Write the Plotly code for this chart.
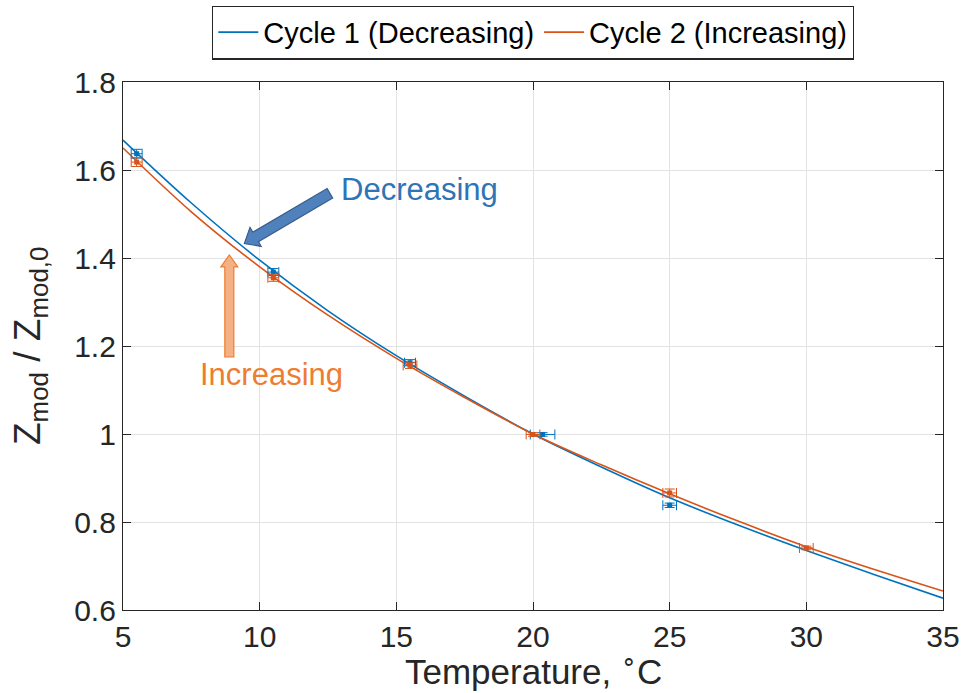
import plotly.graph_objects as go

# Fitted curves (normalised modulus vs temperature)
fit_temp = [5, 7.5, 10, 12.5, 15, 17.5, 20, 22.5, 25, 27.5, 30, 32.5, 35]
fit_cycle1 = [1.668, 1.525, 1.395, 1.280, 1.178, 1.086, 1.000, 0.925, 0.855, 0.793, 0.735, 0.680, 0.627]
fit_cycle2 = [1.650, 1.505, 1.380, 1.270, 1.172, 1.083, 1.000, 0.930, 0.864, 0.802, 0.744, 0.692, 0.643]

# Measured points with uncertainty
c1_temp = [5.5, 10.5, 15.5, 20.35, 25.0]
c1_val = [1.637, 1.368, 1.162, 0.999, 0.838]
c1_terr = [0.2, 0.2, 0.2, 0.45, 0.25]
c1_verr = [0.010, 0.008, 0.007, 0.004, 0.005]

c2_temp = [5.5, 10.5, 15.5, 20.0, 25.0, 30.0]
c2_val = [1.618, 1.355, 1.156, 0.999, 0.866, 0.741]
c2_terr = [0.2, 0.2, 0.25, 0.25, 0.25, 0.25]
c2_verr = [0.010, 0.008, 0.007, 0.004, 0.009, 0.004]

x_ticks = [5, 10, 15, 20, 25, 30, 35]
y_ticks = [0.6, 0.8, 1.0, 1.2, 1.4, 1.6, 1.8]

BLUE = "#0072BD"
ORANGE = "#D95319"
AX = "#262626"
FONT = "Liberation Sans, Arial, sans-serif"

W, H = 963, 693
ML, MR, MT, MB = 123, 20, 82, 83
XR = [5, 35]
YR = [0.6, 1.8]
kx = (W - ML - MR) / (XR[1] - XR[0])
ky = (H - MT - MB) / (YR[1] - YR[0])
plot_h = H - MT - MB

fig = go.Figure()

fig.add_trace(go.Scatter(x=fit_temp, y=fit_cycle1, mode="lines", line=dict(color=BLUE, width=1.6, shape="spline"),
                         name="Cycle 1 (Decreasing)"))
fig.add_trace(go.Scatter(x=fit_temp, y=fit_cycle2, mode="lines", line=dict(color=ORANGE, width=1.6, shape="spline"),
                         name="Cycle 2 (Increasing)"))

for t, v, te, ve, col in [(c1_temp, c1_val, c1_terr, c1_verr, BLUE), (c2_temp, c2_val, c2_terr, c2_verr, ORANGE)]:
    fig.add_trace(go.Scatter(
        x=t, y=v, mode="markers", showlegend=False,
        marker=dict(symbol="square", size=5, color=col),
        error_x=dict(type="data", array=te, color=col, thickness=1, width=5),
        error_y=dict(type="data", array=ve, color=col, thickness=1, width=5),
    ))


def block_arrow(tail, tip, shaft, head, head_len):
    """SVG path of a block arrow; widths in pixels, ends in data units."""
    tx, ty = tail[0] * kx, tail[1] * ky
    px, py = tip[0] * kx, tip[1] * ky
    dx, dy = px - tx, py - ty
    n = (dx * dx + dy * dy) ** 0.5
    dx, dy = dx / n, dy / n
    nx, ny = -dy, dx
    bx, by = px - dx * head_len, py - dy * head_len
    pts = [
        (tx + nx * shaft / 2, ty + ny * shaft / 2),
        (bx + nx * shaft / 2, by + ny * shaft / 2),
        (bx + nx * head / 2, by + ny * head / 2),
        (px, py),
        (bx - nx * head / 2, by - ny * head / 2),
        (bx - nx * shaft / 2, by - ny * shaft / 2),
        (tx - nx * shaft / 2, ty - ny * shaft / 2),
    ]
    return "M " + " L ".join(f"{x / kx:.5f},{y / ky:.5f}" for x, y in pts) + " Z"


fig.add_shape(type="path", xref="x", yref="y",
              path=block_arrow((12.57, 1.547), (9.44, 1.433), 11, 22, 13),
              fillcolor="#4F81BD", line=dict(color="#385D8A", width=1.2))
fig.add_shape(type="path", xref="x", yref="y",
              path=block_arrow((8.89, 1.175), (8.89, 1.407), 9, 17, 12),
              fillcolor="#F4B183", line=dict(color="#ED7D31", width=1.2))

fig.add_annotation(x=15.83, y=1.555, text="Decreasing", showarrow=False,
                   font=dict(family=FONT, size=31, color="#2E75B6"))
fig.add_annotation(x=10.45, y=1.136, text="Increasing", showarrow=False,
                   font=dict(family=FONT, size=31, color="#ED7D31"))

# Axis titles
fig.add_annotation(xref="paper", yref="paper", x=0.5, y=-(669 - (H - MB)) / plot_h, yanchor="middle",
                   text="Temperature, <sup>∘</sup>C", showarrow=False,
                   font=dict(family=FONT, size=35, color=AX))
fig.add_annotation(xref="paper", yref="paper", x=-(ML - 30) / (W - ML - MR), y=0.5, xanchor="center",
                   textangle=-90,
                   text="Z<sub>mod</sub> / Z<sub>mod,0</sub>", showarrow=False,
                   font=dict(family=FONT, size=37, color=AX))

axis_common = dict(
    showline=True, linecolor=AX, linewidth=1.3, mirror="ticks",
    ticks="inside", ticklen=8, tickwidth=1.2, tickcolor=AX,
    showgrid=True, gridcolor="#E3E3E3", gridwidth=1,
    zeroline=False, automargin=False, tickfont=dict(family=FONT, size=30, color=AX),
)

fig.update_layout(
    width=W, height=H,
    margin=dict(l=ML, r=MR, t=MT, b=MB, autoexpand=False),
    paper_bgcolor="white", plot_bgcolor="white",
    font=dict(family=FONT, color=AX),
    xaxis=dict(range=XR, tickvals=x_ticks, **axis_common),
    yaxis=dict(range=YR, tickvals=y_ticks, ticktext=[f"{v:g}" for v in y_ticks], **axis_common),
    legend=dict(orientation="h", x=0.5, xanchor="center", y=1 + (MT - 32.5) / plot_h, yanchor="middle",
                bordercolor=AX, borderwidth=1.3, bgcolor="white",
                font=dict(family=FONT, size=29, color="black"),
                itemwidth=40, tracegroupgap=0),
    showlegend=True,
)

fig.write_html("out.html")
